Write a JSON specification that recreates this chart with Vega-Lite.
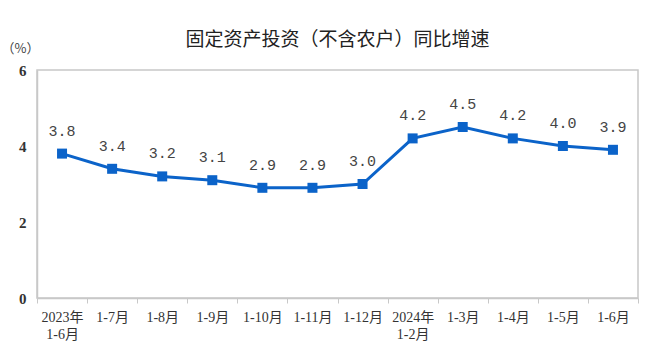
{
  "$schema": "https://vega.github.io/schema/vega-lite/v6.json",
  "width": 601,
  "height": 228,
  "autosize": {"type": "none"},
  "padding": {"left": 37, "top": 70, "right": 19, "bottom": 65},
  "background": "white",
  "title": {
    "text": "固定资产投资（不含农户）同比增速",
    "font": "Noto Sans CJK SC",
    "fontSize": 19,
    "fontWeight": "normal",
    "color": "#222222",
    "anchor": "middle",
    "offset": -8
  },
  "config": {
    "view": {"stroke": "#c8c8c8", "strokeWidth": 1.5},
    "font": "Liberation Serif"
  },
  "data": {
    "values": [
      {"period": "2023年\n1-6月", "v": 3.8},
      {"period": "1-7月", "v": 3.4},
      {"period": "1-8月", "v": 3.2},
      {"period": "1-9月", "v": 3.1},
      {"period": "1-10月", "v": 2.9},
      {"period": "1-11月", "v": 2.9},
      {"period": "1-12月", "v": 3.0},
      {"period": "2024年\n1-2月", "v": 4.2},
      {"period": "1-3月", "v": 4.5},
      {"period": "1-4月", "v": 4.2},
      {"period": "1-5月", "v": 4.0},
      {"period": "1-6月", "v": 3.9}
    ]
  },
  "encoding": {
    "x": {
      "field": "period",
      "type": "nominal",
      "sort": null,
      "scale": {"paddingInner": 0, "paddingOuter": 0},
      "axis": {
        "title": null,
        "labelAngle": 0,
        "labelExpr": "split(datum.label, '\\n')",
        "labelFont": "Liberation Serif, Noto Sans CJK SC",
        "labelFontSize": 14,
        "labelColor": "#333333",
        "labelPadding": 7,
        "labelLineHeight": 17,
        "labelBaseline": "top",
        "domainColor": "#c8c8c8",
        "domainWidth": 1.5,
        "tickColor": "#c8c8c8",
        "tickSize": 5,
        "tickBand": "extent",
        "ticks": true
      }
    },
    "y": {
      "field": "v",
      "type": "quantitative",
      "scale": {"domain": [0, 6], "nice": false},
      "axis": {
        "title": "（%）",
        "titleAngle": 0,
        "titleFont": "Noto Sans CJK SC",
        "titleFontSize": 13,
        "titleFontWeight": "normal",
        "titleColor": "#444444",
        "titleX": -17,
        "titleY": -22,
        "titleAlign": "center",
        "titleBaseline": "middle",
        "values": [0, 2, 4, 6],
        "grid": false,
        "ticks": false,
        "labelFont": "Liberation Serif",
        "labelFontSize": 15,
        "labelFontWeight": "bold",
        "labelColor": "#333333",
        "labelPadding": 11,
        "domainColor": "#c8c8c8",
        "domainWidth": 1.5
      }
    }
  },
  "layer": [
    {
      "mark": {"type": "line", "color": "#0b63c9", "strokeWidth": 3}
    },
    {
      "mark": {"type": "point", "shape": "square", "filled": true, "size": 100, "color": "#0b63c9", "opacity": 1}
    },
    {
      "mark": {"type": "text", "dy": -23, "font": "Liberation Mono", "fontSize": 15, "color": "#444444"},
      "encoding": {"text": {"field": "v", "type": "quantitative", "format": ".1f"}}
    }
  ]
}
